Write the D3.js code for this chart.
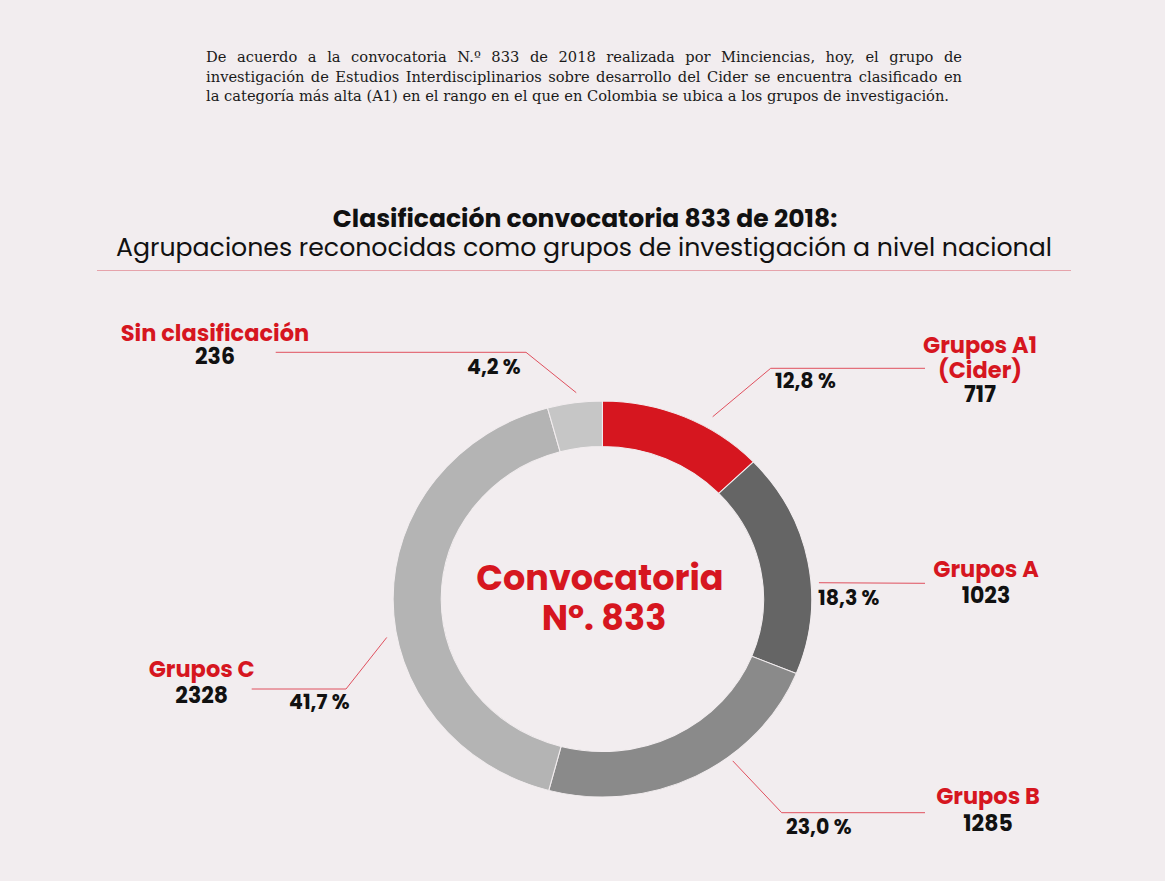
<!DOCTYPE html>
<html><head><meta charset="utf-8">
<script src="https://cdn.jsdelivr.net/npm/d3@7"></script>
<style>
html,body{margin:0;padding:0;background:#f2edef;}
svg{display:block;}
</style></head>
<body>
<svg id="c" width="1165" height="881"></svg>
<script>
// ---- data ----
const categories = ["Grupos A1", "Grupos A", "Grupos B", "Grupos C", "Sin clasificación"];
const counts = [717, 1023, 1285, 2328, 236];
const percentLabels = ["12,8 %", "18,3 %", "23,0 %", "41,7 %", "4,2 %"];
const sliceColors = ["#d6161f", "#656565", "#8a8a8a", "#b4b4b4", "#c6c6c6"];
const introLines = [
  "De acuerdo a la convocatoria N.º 833 de 2018 realizada por Minciencias, hoy, el grupo de",
  "investigación de Estudios Interdisciplinarios sobre desarrollo del Cider se encuentra clasificado en",
  "la categoría más alta (A1) en el rango en el que en Colombia se ubica a los grupos de investigación."
];
const titleText = "Clasificación convocatoria 833 de 2018:";
const subtitleText = "Agrupaciones reconocidas como grupos de investigación a nivel nacional";
const centerLines = ["Convocatoria", "Nº. 833"];

// ---- layout ----
const RED = "#d6161f", INK = "#111111", LINE = "#e0505e";
const cx = 602.4, cy = 599, sx = 1.057, rOut = 198, rIn = 152.5;
const sans = "Poppins, Inter, 'Noto Sans', sans-serif";
const labelLayout = [
  {f:0.645, r:210, elbow:[770.7,368.3], end:[925,368.3], pct:[775,388], name:["Grupos A1","(Cider)"], nameX:980, nameY:[353,378], valY:402},
  {f:0.596, r:205.5, elbow:null, end:[925,583.3], pct:[818,605], name:["Grupos A"], nameX:986, nameY:[577], valY:603},
  {f:0.37, r:203.5, elbow:[781.7,812.7], end:[925,812.7], pct:[786,833.5], name:["Grupos B"], nameX:988, nameY:[804], valY:831},
  {f:0.43, r:207.6, elbow:[346,689], end:[251.7,689], pct:[289,708.5], name:["Grupos C"], nameX:201.7, nameY:[677], valY:703},
  {f:0.55, r:207.8, elbow:[526,352.3], end:[275.7,352.3], pct:[467,374], name:["Sin clasificación"], nameX:215, nameY:[341], valY:364}
];

const svg = d3.select("#c");
svg.append("rect").attr("width",1165).attr("height",881).attr("fill","#f2edef");

// intro paragraph (justified), font sized so the last line spans like the reference
const para = svg.append("g");
const paraX0 = 206, paraX1 = 962, lastLineEnd = 950, paraY = [62, 81.5, 101];
const probe = para.append("text").attr("font-family","'DejaVu Serif', serif").attr("font-size",14).text(introLines[2]);
const paraFont = 14 * (lastLineEnd-paraX0) / probe.node().getComputedTextLength();
probe.remove();
introLines.forEach((t,i)=>{
  const tx = para.append("text").attr("x",paraX0).attr("y",paraY[i])
    .attr("font-family","'DejaVu Serif', serif")
    .attr("font-size",paraFont).attr("fill","#1a1a1a").text(t);
  if(i < introLines.length-1){
    const w = tx.node().getComputedTextLength();
    const gaps = t.split(" ").length-1;
    tx.attr("word-spacing", (paraX1-paraX0-w)/gaps);
  }
});

// titles
svg.append("text").attr("x",585).attr("y",227).attr("text-anchor","middle")
  .attr("font-family",sans).attr("font-weight",700).attr("font-size",25).attr("fill",INK).text(titleText);
svg.append("text").attr("x",584).attr("y",256).attr("text-anchor","middle")
  .attr("font-family",sans).attr("font-weight",400).attr("font-size",25.2).attr("fill",INK).text(subtitleText);
svg.append("line").attr("x1",97).attr("x2",1071).attr("y1",270.5).attr("y2",270.5)
  .attr("stroke","#e6a3ab").attr("stroke-width",1);

// donut
const pie = d3.pie().sort(null).value(d=>d);
const arcs = pie(counts);
const arc = d3.arc().innerRadius(rIn).outerRadius(rOut);
const donut = svg.append("g").attr("transform",`translate(${cx},${cy}) scale(${sx},1)`);
donut.selectAll("path").data(arcs).join("path")
  .attr("d",arc).attr("fill",(d,i)=>sliceColors[i])
  .attr("stroke","#f2edef").attr("stroke-width",1);

// center text
svg.append("text").attr("x",600).attr("y",590).attr("text-anchor","middle")
  .attr("font-family",sans).attr("font-weight",700).attr("font-size",35).attr("fill",RED).text(centerLines[0]);
svg.append("text").attr("x",604).attr("y",630).attr("text-anchor","middle")
  .attr("font-family",sans).attr("font-weight",700).attr("font-size",35).attr("fill",RED).text(centerLines[1]);

// leaders & labels
const lab = svg.append("g");
arcs.forEach((a,i)=>{
  const L = labelLayout[i];
  const ang = a.startAngle + (a.endAngle-a.startAngle)*L.f;
  const p0 = [cx + Math.sin(ang)*L.r*sx, cy - Math.cos(ang)*L.r];
  const pts = [p0];
  if(L.elbow) pts.push(L.elbow);
  pts.push(L.end);
  lab.append("path").attr("d",d3.line()(pts)).attr("fill","none")
    .attr("stroke",LINE).attr("stroke-width",1);
  lab.append("text").attr("x",L.pct[0]).attr("y",L.pct[1])
    .attr("font-family",sans).attr("font-weight",700).attr("font-size",20.5).attr("fill",INK)
    .text(percentLabels[i]);
  L.name.forEach((n,j)=>{
    lab.append("text").attr("x",L.nameX).attr("y",L.nameY[j]).attr("text-anchor","middle")
      .attr("font-family",sans).attr("font-weight",700).attr("font-size",22.5).attr("fill",RED)
      .text(j===0?categories[i]:n);
  });
  lab.append("text").attr("x",L.nameX).attr("y",L.valY).attr("text-anchor","middle")
    .attr("font-family",sans).attr("font-weight",700).attr("font-size",22).attr("fill",INK)
    .text(d3.format("d")(counts[i]));
});
</script>
</body></html>
